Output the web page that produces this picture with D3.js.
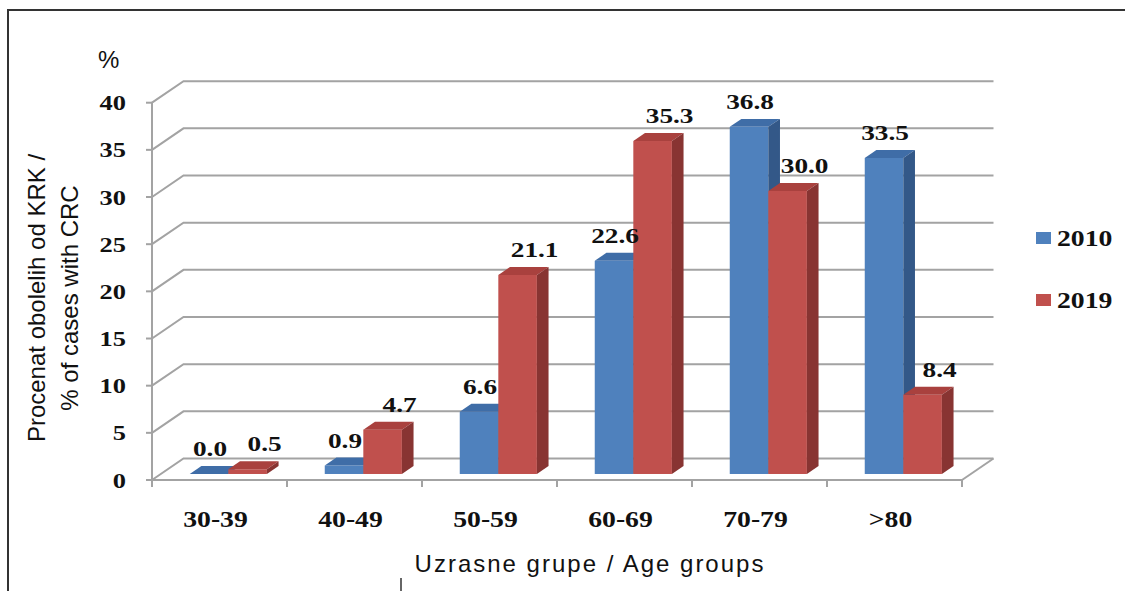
<!DOCTYPE html>
<html>
<head>
<meta charset="utf-8">
<script src="https://cdn.jsdelivr.net/npm/d3@7"></script>
<style>
  html, body { margin: 0; padding: 0; background: #fff; }
  svg { display: block; }
  .serif { font-family: "Liberation Serif", "Times New Roman", Times, "DejaVu Serif", serif; font-weight: 700; }
  .sans { font-family: "Liberation Sans", Arial, Helvetica, sans-serif; }
</style>
</head>
<body>
<svg id="chart" width="1125" height="591"></svg>
<script>
const categories = ["30-39", "40-49", "50-59", "60-69", "70-79", ">80"];
const seriesNames = ["2010", "2019"];
const values2010 = [0.0, 0.9, 6.6, 22.6, 36.8, 33.5];
const values2019 = [0.5, 4.7, 21.1, 35.3, 30.0, 8.4];
const yTickValues = [0, 5, 10, 15, 20, 25, 30, 35, 40];
const yAxisTitle = ["Procenat obolelih od KRK /", "% of cases with CRC"];
const xAxisTitle = "Uzrasne grupe / Age groups";
const unitLabel = "%";

const seriesValues = [values2010, values2019];
const colors = {
  "2010": { front: "#4F81BD", top: "#3F6DA7", side: "#335888" },
  "2019": { front: "#C0504D", top: "#A9413E", side: "#883432" }
};

const svg = d3.select("#chart");

// frame
svg.append("path")
  .attr("d", "M8,600 L8,10 L1130,10")
  .attr("fill", "none").attr("stroke", "#333").attr("stroke-width", 2);
svg.append("line").attr("x1", 401).attr("x2", 401).attr("y1", 578).attr("y2", 592)
  .attr("stroke", "#333").attr("stroke-width", 1.5);

const x = d3.scaleBand().domain(categories).range([152, 962]).padding(0);
const xSub = d3.scaleBand().domain(seriesNames).range([0, x.bandwidth()])
  .paddingInner(0).paddingOuter(0.75);
const y = d3.scaleLinear().domain([0, 40]).range([480, 102.7]);

// depth vector of the whole floor
const DX = 31.5, DY = -21.5;
const frontFrac = 0.28, depthFrac = 0.37;
const fdx = DX * frontFrac, fdy = DY * frontFrac;
const bdx = DX * depthFrac, bdy = DY * depthFrac;

const gridColor = "#A3A3A3";
const grid = svg.append("g");

yTickValues.forEach(v => {
  const yy = y(v);
  grid.append("path")
    .attr("d", `M152,${yy} L${152 + DX},${yy + DY} L${962 + DX},${yy + DY}`)
    .attr("fill", "none").attr("stroke", gridColor).attr("stroke-width", 2);
  grid.append("line").attr("x1", 146).attr("x2", 152).attr("y1", yy).attr("y2", yy)
    .attr("stroke", gridColor).attr("stroke-width", 2);
});
grid.append("line").attr("x1", 962).attr("y1", y(0)).attr("x2", 962 + DX).attr("y2", y(0) + DY)
  .attr("stroke", gridColor).attr("stroke-width", 2);
grid.append("line").attr("x1", 152).attr("x2", 152).attr("y1", y(40)).attr("y2", y(0))
  .attr("stroke", gridColor).attr("stroke-width", 2);
grid.append("line").attr("x1", 152).attr("x2", 962).attr("y1", y(0)).attr("y2", y(0))
  .attr("stroke", gridColor).attr("stroke-width", 2);
const boundaries = categories.map(c => x(c)).concat([x(categories[categories.length - 1]) + x.bandwidth()]);
boundaries.forEach(bx => {
  grid.append("line").attr("x1", bx).attr("x2", bx).attr("y1", y(0)).attr("y2", y(0) + 7)
    .attr("stroke", gridColor).attr("stroke-width", 2);
});

// bars
const bars = svg.append("g");
const labelData = [];
categories.forEach((cat, i) => {
  seriesNames.forEach((s, si) => {
    const v = seriesValues[si][i];
    const w = xSub.bandwidth();
    const x0 = x(cat) + xSub(s) + fdx;
    const y0 = y(v) + fdy;
    const yb = y(0) + fdy;
    const c = colors[s];
    bars.append("rect").attr("x", x0).attr("y", y0).attr("width", w).attr("height", Math.max(0, yb - y0))
      .attr("fill", c.front);
    bars.append("path")
      .attr("d", `M${x0},${y0} L${x0 + bdx},${y0 + bdy} L${x0 + w + bdx},${y0 + bdy} L${x0 + w},${y0} Z`)
      .attr("fill", c.top);
    bars.append("path")
      .attr("d", `M${x0 + w},${y0} L${x0 + w + bdx},${y0 + bdy} L${x0 + w + bdx},${yb + bdy} L${x0 + w},${yb} Z`)
      .attr("fill", c.side);
    const lx = x0 + w / 2 + (si === 0 ? 1 : 17);
    labelData.push({ x: lx, y: y0 + bdy - 10, text: v.toFixed(1) });
  });
});

function stretchText(g, txt, tx, ty, anchor, size, sx) {
  return g.append("text")
    .attr("class", "serif")
    .attr("transform", `translate(${tx},${ty}) scale(${sx},1)`)
    .attr("text-anchor", anchor)
    .style("font-size", size + "px")
    .attr("fill", "#111")
    .text(txt);
}

const labels = svg.append("g");
labelData.forEach(d => {
  stretchText(labels, d.text, d.x, d.y, "middle", 21, 1.3);
});

const yt = svg.append("g");
yTickValues.forEach(v => {
  stretchText(yt, String(v), 126, y(v) + 7.5, "end", 22, 1.2);
});

const xt = svg.append("g");
categories.forEach(c => {
  stretchText(xt, c, x(c) + x.bandwidth() / 2 - 4, 527, "middle", 23.5, 1.18);
});

const lg = svg.append("g");
seriesNames.forEach((s, i) => {
  const ly = 232 + i * 62;
  lg.append("rect").attr("x", 1036).attr("y", ly).attr("width", 15).attr("height", 12)
    .attr("fill", colors[s].front);
  stretchText(lg, s, 1057, ly + 14, "start", 23.5, 1.18);
});

svg.append("text").attr("class", "sans").attr("x", 98).attr("y", 68)
  .style("font-size", "24px").attr("fill", "#111").text(unitLabel);

yAxisTitle.forEach((t, i) => {
  svg.append("text").attr("class", "sans")
    .attr("transform", `translate(${45 + i * 33},298) rotate(-90)`)
    .attr("text-anchor", "middle")
    .style("font-size", "24px").attr("fill", "#111")
    .text(t);
});

svg.append("text").attr("class", "sans").attr("x", 590).attr("y", 572)
  .attr("text-anchor", "middle")
  .style("font-size", "24px").style("letter-spacing", "2px")
  .attr("fill", "#111").text(xAxisTitle);
</script>
</body>
</html>
